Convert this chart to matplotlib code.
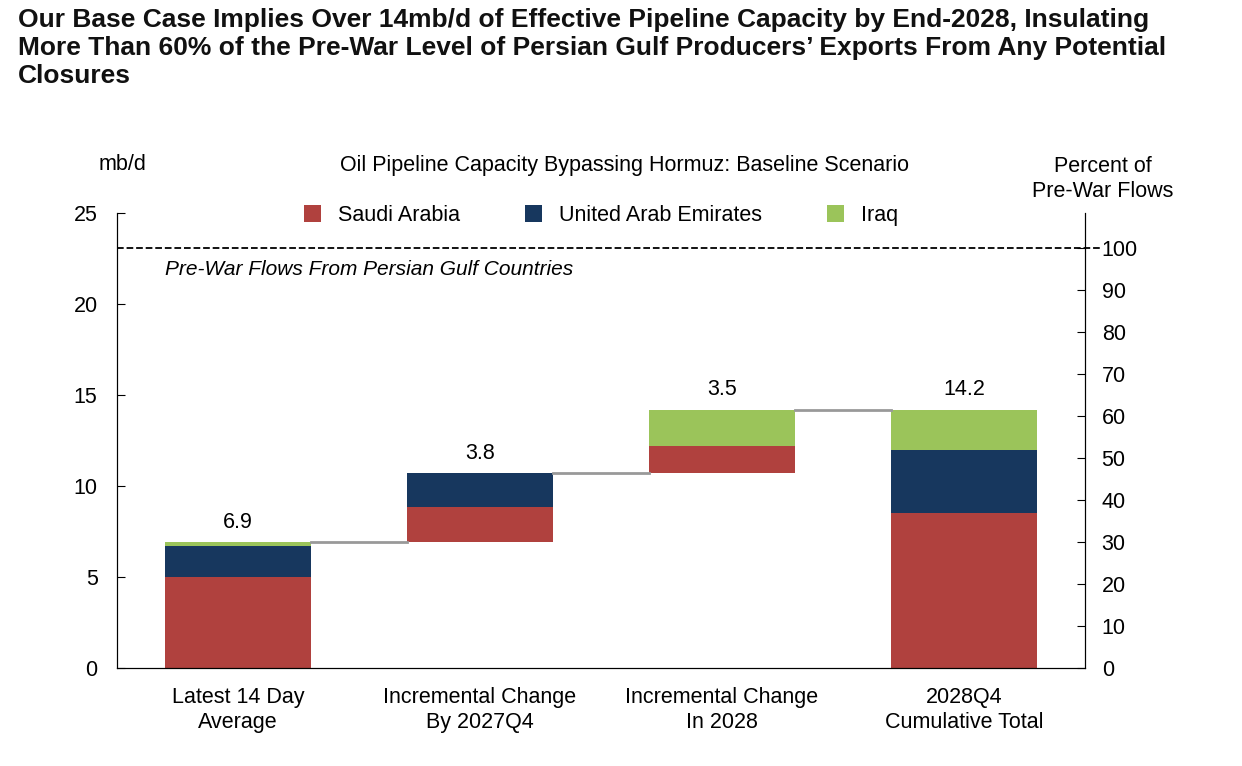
import numpy as np
import matplotlib.pyplot as plt

plt.rcParams['font.family'] = ['Liberation Sans', 'DejaVu Sans']

categories = ['Latest 14 Day\nAverage', 'Incremental Change\nBy 2027Q4', 'Incremental Change\nIn 2028', '2028Q4\nCumulative Total']
bases = [0.0, 6.9, 10.7, 0.0]
saudi = [5.0, 1.95, 1.5, 8.5]
uae = [1.7, 1.85, 0.0, 3.5]
iraq = [0.2, 0.0, 2.0, 2.2]
totals_label = ['6.9', '3.8', '3.5', '14.2']
pre_war = 23.1

c_sa, c_uae, c_iq = '#B0413E', '#17375E', '#9BC45A'

fig = plt.figure(figsize=(12.42, 7.66), dpi=100)
ax = fig.add_axes([117/1242, 1-668/766, (1085-117)/1242, (668-213)/766])
x = np.arange(len(categories))
w = 0.6
b = np.array(bases)
ax.bar(x, saudi, w, bottom=b, color=c_sa, label='Saudi Arabia')
b = b + np.array(saudi)
ax.bar(x, uae, w, bottom=b, color=c_uae, label='United Arab Emirates')
b = b + np.array(uae)
ax.bar(x, iraq, w, bottom=b, color=c_iq, label='Iraq')
tops = b + np.array(iraq)
for i in range(len(x)):
    ax.text(x[i], tops[i] + 0.5, totals_label[i], ha='center', va='bottom', fontsize=15.5)
for i in range(len(x) - 1):
    ax.plot([x[i] + w/2, x[i+1] - w/2], [tops[i], tops[i]], color='#999999', lw=2)

ax.axhline(pre_war, color='black', ls='--', lw=1.3, clip_on=False, xmax=1.015)
ax.text(-0.3, pre_war - 0.7, 'Pre-War Flows From Persian Gulf Countries', style='italic', fontsize=15, va='top')

ax.set_xlim(-0.5, 3.5)
ax.set_ylim(0, 25)
ax.set_yticks(range(0, 26, 5))
ax.tick_params(axis='y', direction='in', labelsize=15.5, length=6, pad=14)
ax.tick_params(axis='x', length=0, labelsize=15.5, pad=14)
ax.set_xticks(x)
ax.set_xticklabels(categories)
ax.spines['top'].set_visible(False)

ax2 = ax.twinx()
ax2.set_ylim(0, 25 / pre_war * 100)
ax2.set_yticks(range(0, 101, 10))
ax2.tick_params(axis='y', direction='in', labelsize=15.5, length=6, pad=12)
ax2.spines['top'].set_visible(False)

ax.legend(loc='upper center', bbox_to_anchor=(0.5, 1.06), ncol=3, frameon=False, fontsize=15.5,
          handlelength=0.8, handleheight=0.8, columnspacing=3.0)

fig.text(18/1242, 1-8/766, 'Our Base Case Implies Over 14mb/d of Effective Pipeline Capacity by End-2028, Insulating\n'
         'More Than 60% of the Pre-War Level of Persian Gulf Producers\u2019 Exports From Any Potential\nClosures',
         fontsize=19, fontweight='bold', va='top', linespacing=1.2, color='#111111')
fig.text(122/1242, 1-165/766, 'mb/d', fontsize=15.5, ha='center', va='center')
fig.text(625/1242, 1-165/766, 'Oil Pipeline Capacity Bypassing Hormuz: Baseline Scenario', fontsize=15.5, ha='center', va='center')
fig.text(1103/1242, 1-179/766, 'Percent of\nPre-War Flows', fontsize=15.5, ha='center', va='center')

fig.savefig('out.png', dpi=100)
